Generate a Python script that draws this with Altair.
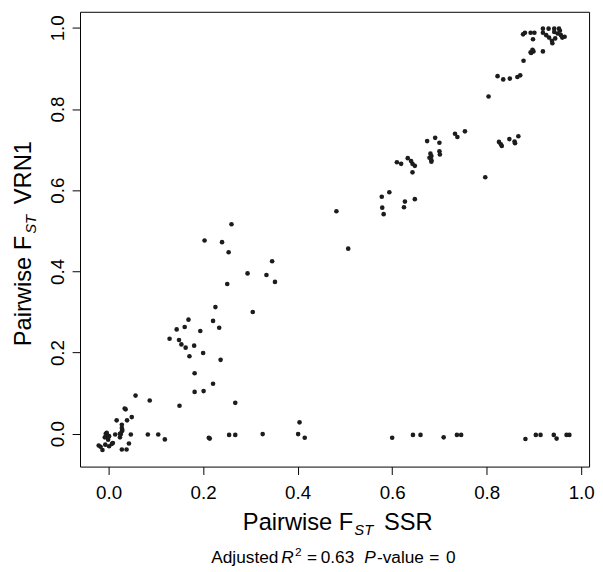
import altair as alt
import pandas as pd

# Pairwise F_ST (SSR) values
fst_ssr = [
    -0.021, -0.013, -0.017, -0.008, -0.006, -0.004, -0.004, 0.001, -0.001, -0.007,
    0.001, 0.007, 0.009, -0.001, 0.014, 0.024, 0.026, 0.024, 0.028, 0.029,
    0.028, 0.028, 0.017, 0.039, 0.049, 0.034, 0.036, 0.028, 0.038, 0.043,
    0.047, 0.083, 0.105, 0.119, 0.057, 0.087,
    0.150, 0.268, 0.182, 0.201, 0.221, 0.182, 0.237, 0.171, 0.200, 0.163,
    0.181, 0.154, 0.149, 0.129, 0.144, 0.161, 0.194, 0.234, 0.169, 0.221,
    0.226, 0.305, 0.251, 0.352, 0.334, 0.294, 0.346, 0.254, 0.240, 0.203,
    0.260, 0.482, 0.507,
    0.214, 0.212, 0.255, 0.268, 0.326, 0.404, 0.401, 0.415, 0.600, 0.644,
    0.660, 0.709, 0.737, 0.746, 0.882, 0.904, 0.914, 0.942, 0.948, 0.969,
    0.975,
    0.578, 0.594, 0.579, 0.582, 0.627, 0.625, 0.648, 0.610, 0.619, 0.633,
    0.640, 0.643, 0.648, 0.643, 0.674, 0.691, 0.700, 0.681, 0.683, 0.679,
    0.683, 0.683, 0.700, 0.701, 0.733, 0.738, 0.754, 0.797, 0.826, 0.832,
    0.830, 0.848, 0.859, 0.860, 0.867,
    0.804, 0.823, 0.835, 0.849, 0.865, 0.871, 0.878, 0.894, 0.899, 0.897,
    0.893, 0.919, 0.877, 0.881, 0.893, 0.901, 0.898, 0.919, 0.931, 0.943,
    0.953, 0.919, 0.926, 0.932, 0.938, 0.939, 0.945, 0.950, 0.957, 0.960,
    0.965, 0.955, 0.943,
]

# Pairwise F_ST (VRN1) values
fst_vrn1 = [
    -0.029, -0.040, -0.032, -0.009, 0.000, 0.002, -0.002, -0.006, -0.015, -0.027,
    -0.031, -0.025, -0.023, -0.010, -0.002, -0.009, -0.001, 0.000, 0.006, 0.009,
    0.014, 0.022, 0.033, 0.033, 0.041, 0.062, 0.060, -0.039, -0.039, -0.024,
    -0.002, -0.002, -0.002, -0.014, 0.094, 0.082,
    0.069, 0.076, 0.103, 0.105, 0.123, 0.149, 0.182, 0.191, 0.199, 0.212,
    0.217, 0.220, 0.231, 0.234, 0.257, 0.263, 0.253, 0.261, 0.281, 0.278,
    0.312, 0.300, 0.369, 0.374, 0.391, 0.395, 0.425, 0.447, 0.472, 0.476,
    0.516, 0.548, 0.456,
    -0.012, -0.010, -0.003, -0.003, -0.001, 0.028, -0.001, -0.010, -0.010, -0.003,
    -0.003, -0.009, -0.003, -0.003, -0.013, -0.003, -0.003, -0.003, -0.012, -0.003,
    -0.003,
    0.584, 0.595, 0.557, 0.541, 0.572, 0.558, 0.578, 0.669, 0.665, 0.679,
    0.672, 0.665, 0.660, 0.644, 0.721, 0.729, 0.717, 0.690, 0.684, 0.680,
    0.674, 0.670, 0.696, 0.688, 0.739, 0.731, 0.745, 0.632, 0.719, 0.709,
    0.713, 0.726, 0.720, 0.716, 0.733,
    0.831, 0.881, 0.873, 0.875, 0.879, 0.883, 0.919, 0.938, 0.942, 0.946,
    0.940, 0.942, 0.984, 0.988, 0.988, 0.988, 0.972, 0.998, 0.998, 0.998,
    0.998, 0.988, 0.982, 0.976, 0.968, 0.962, 0.974, 0.986, 0.982, 0.976,
    0.978, 0.993, 0.990,
]

tick_values = [0.0, 0.2, 0.4, 0.6, 0.8, 1.0]

df = pd.DataFrame({"ssr": fst_ssr, "vrn1": fst_vrn1})

FONT = "Liberation Sans"
W, H = 516, 461

points = alt.Chart(df).mark_circle(size=22, color="#1c1c1c", opacity=1).encode(
    x=alt.X("ssr:Q",
            scale=alt.Scale(domain=[-0.0605, 1.0167], nice=False, zero=False),
            axis=alt.Axis(values=tick_values, format=".1f", title=None, grid=False,
                          domain=False, tickSize=8, tickColor="black", tickWidth=1,
                          labelFontSize=19, labelFont=FONT, labelColor="black",
                          labelPadding=9, labelFlush=False)),
    y=alt.Y("vrn1:Q",
            scale=alt.Scale(domain=[-0.081, 1.0396], nice=False, zero=False),
            axis=alt.Axis(values=tick_values, format=".1f", title=None, grid=False,
                          domain=False, tickSize=8, tickColor="black", tickWidth=1,
                          labelFontSize=19, labelFont=FONT, labelColor="black",
                          labelAngle=270, labelAlign="center", labelBaseline="alphabetic",
                          labelPadding=9, labelFlush=False)),
)


def txt(s, x, y, size, italic=False, angle=0, align="left"):
    m = alt.Chart(pd.DataFrame({"t": [s]})).mark_text(
        font=FONT, fontSize=size, color="black", align=align,
        baseline="alphabetic", angle=angle,
        fontStyle="italic" if italic else "normal",
    )
    return m.encode(x=alt.value(x), y=alt.value(y), text="t:N")


OX, OY = 81, 8  # page position of plot origin
CAP_Y = 567 - OY
texts = [
    # x-axis title
    txt("Pairwise F", 358 - OX, 533 - OY, 24, align="right"),
    txt("ST", 359 - OX, 538 - OY, 15, italic=True),
    txt("SSR", 389 - OX, 533 - OY, 24),
    # y-axis title
    txt("Pairwise F", 31 - OX, 347 - OY, 24, angle=270),
    txt("ST", 36 - OX, 233 - OY, 15, italic=True, angle=270),
    txt("VRN1", 31 - OX, 203 - OY, 24, angle=270),
    # caption
    txt("Adjusted", 214 - OX, CAP_Y, 17.5),
    txt("R", 285 - OX, CAP_Y, 17.5, italic=True),
    txt("2", 299 - OX, 560 - OY, 12),
    txt("=", 311 - OX, CAP_Y, 17.5),
    txt("0.63", 325 - OX, CAP_Y, 17.5),
    txt("P", 369 - OX, CAP_Y, 17.5, italic=True),
    txt("-value", 382 - OX, CAP_Y, 17.5),
    txt("=", 435 - OX, CAP_Y, 17.5),
    txt("0", 452 - OX, CAP_Y, 17.5),
]

chart = alt.layer(points, *texts).properties(
    width=W, height=H,
    autosize=alt.AutoSizeParams(type="none"),
    padding={"left": 73, "top": 0, "right": 6, "bottom": 103},
    background="white",
).configure_view(stroke="black", strokeWidth=1)

chart.save("out.html", embed_options={"renderer": "svg", "actions": False})
